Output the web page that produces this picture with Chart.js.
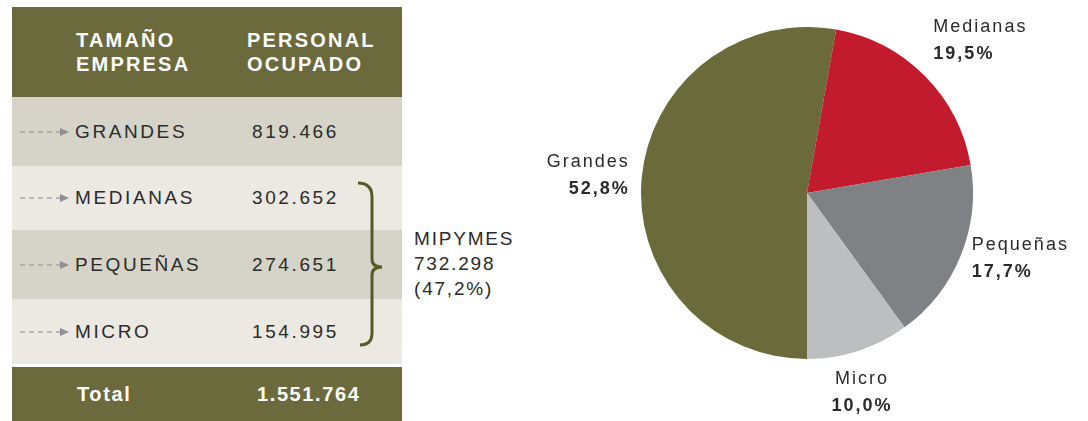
<!DOCTYPE html>
<html>
<head>
<meta charset="utf-8">
<script src="https://cdn.jsdelivr.net/npm/chart.js@4.4.0/dist/chart.umd.min.js"></script>
<style>
body { margin:0; background:#fff; font-family:"Liberation Sans", Arial, sans-serif; }
#wrap { position:relative; width:1088px; height:421px; overflow:hidden; }
#tabla { position:absolute; left:12px; top:7px; width:390px; }
#tabla .row { position:relative; width:390px; }
#tabla .head { background:#6b6a3c; height:90px; color:#fff; font-weight:bold; font-size:20px; letter-spacing:2.2px; line-height:24px; }
#tabla .head div { position:absolute; top:21px; }
#tabla .dato { font-size:19px; letter-spacing:2.6px; color:#2b2b2b; }
#tabla .dato span { position:absolute; top:50%; transform:translateY(-50%); }
#tabla .total { background:#6b6a3c; color:#fff; font-weight:bold; font-size:20px; letter-spacing:1.6px; height:60px; margin-top:3px; }
#tabla .total span { position:absolute; top:16px; }
#mipymes { position:absolute; left:414px; top:226px; font-size:19px; line-height:25px; color:#2b2b2b; letter-spacing:1.8px; }
#llave { position:absolute; left:350px; top:175px; }
#grafico { position:absolute; left:430px; top:0; }
</style>
</head>
<body>
<div id="wrap">
  <div id="tabla"></div>
  <svg id="llave" width="50" height="180">
    <path d="M8 8 Q22 8 22 22 L22 84 Q22 92 32 92 Q22 92 22 100 L22 158 Q22 170 10 170" fill="none" stroke="#565a28" stroke-width="3"/>
  </svg>
  <div id="mipymes"></div>
  <canvas id="grafico" width="658" height="421"></canvas>
</div>
<script>
// personal ocupado por tamaño de empresa
var categorias = ["Grandes", "Medianas", "Pequeñas", "Micro"];
var personal = [819466, 302652, 274651, 154995];
var colores = ["#6b6a3a", "#c11b2d", "#7f8184", "#bcbec0"];
var filas = ["#d6d4c8", "#ebe9e2", "#d6d4c8", "#ebe9e2"];
var alturas = [69, 64, 69, 65];

function miles(n){ return String(n).replace(/\B(?=(\d{3})+(?!\d))/g, "."); }
function pct(n, t){ return (n / t * 100).toFixed(1).replace(".", ","); }

var total = personal.reduce(function(a, b){ return a + b; }, 0);
var pymes = total - personal[0];

/* tabla */
var html = '<div class="row head"><div style="left:64px">TAMAÑO<br>EMPRESA</div><div style="left:235px">PERSONAL<br>OCUPADO</div></div>';
for (var i = 0; i < categorias.length; i++) {
	html += '<div class="row dato" style="height:' + alturas[i] + 'px;background:' + filas[i] + '">' +
		'<svg width="52" height="10" style="position:absolute;left:8px;top:50%;margin-top:-5px">' +
		'<line x1="0" y1="5" x2="40" y2="5" stroke="#a4a4a8" stroke-width="1.5" stroke-dasharray="5,4"/>' +
		'<path d="M40 1 L49 5 L40 9 Z" fill="#8e8e94"/></svg>' +
		'<span style="left:63px">' + categorias[i].toUpperCase() + '</span>' +
		'<span style="left:240px">' + miles(personal[i]) + '</span></div>';
}
html += '<div class="row total"><span style="left:65px">Total</span><span style="left:245px">' + miles(total) + '</span></div>';
$ = function(id){ return document.getElementById(id); };
$("tabla").innerHTML = html;
$("mipymes").innerHTML = "MIPYMES<br>" + miles(pymes) + "<br>(" + pct(pymes, total) + "%)";

/* etiquetas alrededor de la torta */
var etiquetas = {
	id: "etiquetas",
	afterDraw: function(chart){
		var ctx = chart.ctx;
		var arcs = chart.getDatasetMeta(0).data;
		ctx.save();
		ctx.fillStyle = "#2b2b2b";
		ctx.letterSpacing = "2px";
		arcs.forEach(function(arc, i){
			var a = (arc.startAngle + arc.endAngle) / 2;
			var r = arc.outerRadius + 12;
			var x = arc.x + Math.cos(a) * r;
			var y = arc.y + Math.sin(a) * r;
			var sx = Math.cos(a), sy = Math.sin(a);
			ctx.textAlign = sx > 0.35 ? "left" : (sx < -0.35 ? "right" : "center");
			var top;
			if (sy < -0.5) top = y - 50;
			else if (sy > 0.5) top = y + 8;
			else top = y - 24;
			ctx.textBaseline = "top";
			ctx.font = "18px 'Liberation Sans', Arial, sans-serif";
			ctx.fillText(categorias[i], x, top);
			ctx.font = "bold 18px 'Liberation Sans', Arial, sans-serif";
			ctx.fillText(pct(personal[i], total) + "%", x, top + 27);
		});
		ctx.restore();
	}
};

new Chart($("grafico").getContext("2d"), {
	type: "pie",
	data: {
		labels: categorias,
		datasets: [{ data: personal, backgroundColor: colores, borderWidth: 0 }]
	},
	options: {
		responsive: false,
		animation: false,
		rotation: 180,
		layout: { padding: { left: 211, right: 115, top: 27, bottom: 62 } },
		plugins: { legend: { display: false }, tooltip: { enabled: false } }
	},
	plugins: [etiquetas]
});
</script>
</body>
</html>
